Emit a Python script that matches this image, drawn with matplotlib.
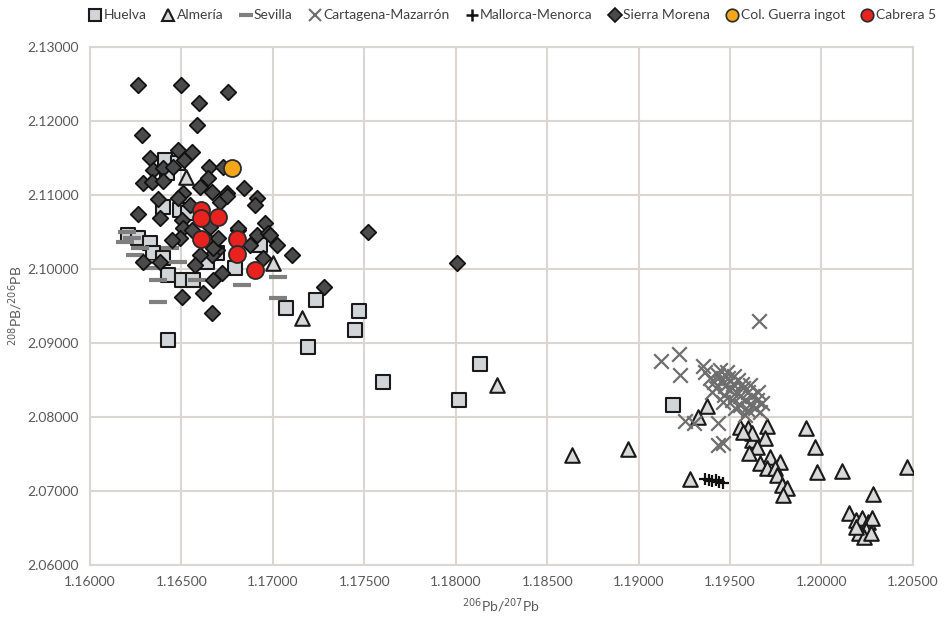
import matplotlib.pyplot as plt
from matplotlib.lines import Line2D

plt.rcParams['font.family'] = ['Lato', 'DejaVu Sans']

# Huelva
huelva_x = [1.16410, 1.16481, 1.16421, 1.16399, 1.16492, 1.16208, 1.16263, 1.16328, 1.16345, 1.16399,
            1.16695, 1.16793, 1.16930, 1.16427, 1.16503, 1.16563, 1.16536, 1.16640, 1.17072, 1.17236,
            1.17193, 1.16427, 1.17472, 1.17450, 1.17603, 1.18133, 1.18018, 1.19189]
huelva_y = [2.11473, 2.11432, 2.11297, 2.10838, 2.10797, 2.10459, 2.10419, 2.10351, 2.10216, 2.10149,
            2.10216, 2.10013, 2.10324, 2.09919, 2.09851, 2.09851, 2.10757, 2.10095, 2.09473, 2.09581,
            2.08946, 2.09041, 2.09432, 2.09176, 2.08473, 2.08716, 2.08230, 2.08162]

# Almería
almeria_x = [1.16525, 1.17001, 1.17160, 1.18226, 1.18637, 1.18943,
             1.19375, 1.19326, 1.19282, 1.19917, 1.19966, 1.19977, 1.20114, 1.20470, 1.20283,
             1.20152, 1.20190, 1.20223, 1.20256, 1.20278, 1.20245, 1.20207, 1.20234, 1.20273, 1.20190,
             1.19556, 1.19600, 1.19703, 1.19693, 1.19621, 1.19649, 1.19605, 1.19720, 1.19775,
             1.19665, 1.19703, 1.19747, 1.19758, 1.19786, 1.19813, 1.19791, 1.19621, 1.19572]
almeria_y = [2.11243, 2.10080, 2.09338, 2.08432, 2.07480, 2.07568,
             2.08149, 2.08000, 2.07162, 2.07851, 2.07595, 2.07257, 2.07270, 2.07324, 2.06959,
             2.06703, 2.06608, 2.06635, 2.06581, 2.06635, 2.06473, 2.06432, 2.06378, 2.06432, 2.06514,
             2.07865, 2.07851, 2.07878, 2.07716, 2.07689, 2.07595, 2.07514, 2.07459, 2.07392,
             2.07378, 2.07311, 2.07311, 2.07216, 2.07081, 2.07041, 2.06946, 2.07784, 2.07797]

# Sevilla
sevilla_x = [1.16202, 1.16191, 1.16274, 1.16438, 1.16481, 1.16372, 1.16585, 1.16372, 1.16831,
             1.17028, 1.17028, 1.16328, 1.16246, 1.16301, 1.16230]
sevilla_y = [2.10500, 2.10365, 2.10284, 2.10284, 2.10095, 2.09851, 2.09851, 2.09554, 2.09784,
             2.09892, 2.09608, 2.10013, 2.10189, 2.10095, 2.10419]

# Cartagena-Mazarrón
cartagena_x = [1.19364, 1.19391, 1.19413, 1.19435, 1.19457, 1.19473, 1.19490, 1.19501, 1.19517, 1.19534,
               1.19545, 1.19556, 1.19572, 1.19583, 1.19599, 1.19610, 1.19621, 1.19638, 1.19648, 1.19665,
               1.19424, 1.19468, 1.19512, 1.19556, 1.19599, 1.19402, 1.19446, 1.19484, 1.19523, 1.19566,
               1.19610, 1.19654, 1.19676, 1.19528, 1.19583, 1.19463,
               1.19660, 1.19124, 1.19222, 1.19228, 1.19354, 1.19255, 1.19304, 1.19435, 1.19463, 1.19435]
cartagena_y = [2.08608, 2.08527, 2.08473, 2.08568, 2.08500, 2.08419, 2.08527, 2.08365, 2.08446, 2.08338,
               2.08500, 2.08284, 2.08392, 2.08230, 2.08338, 2.08176, 2.08284, 2.08122, 2.08230, 2.08068,
               2.08392, 2.08297, 2.08230, 2.08162, 2.08095, 2.08338, 2.08635, 2.08608, 2.08554, 2.08446,
               2.08432, 2.08338, 2.08189, 2.08122, 2.08027, 2.08203,
               2.09297, 2.08757, 2.08851, 2.08568, 2.08689, 2.07946, 2.07919, 2.07919, 2.07649, 2.07622]

# Mallorca-Menorca
mallorca_x = [1.19364, 1.19386, 1.19402, 1.19424, 1.19441, 1.19463]
mallorca_y = [2.07162, 2.07149, 2.07135, 2.07149, 2.07122, 2.07108]

# Sierra Morena
sierra_x = [1.16263, 1.16498, 1.16755, 1.16596, 1.16585, 1.16284, 1.16481, 1.16558, 1.16328, 1.16514,
            1.16345, 1.16399, 1.16454, 1.16651, 1.16645, 1.16290, 1.16339, 1.16399, 1.16728, 1.16602,
            1.16667, 1.16749, 1.16842, 1.16913, 1.16372, 1.16509, 1.16711, 1.16481, 1.16749, 1.16903,
            1.16263, 1.16383, 1.16503, 1.16509, 1.16492, 1.16449, 1.16558, 1.16656, 1.16645, 1.16695,
            1.16667, 1.16602, 1.16722, 1.16673, 1.16503, 1.16618, 1.16667, 1.16383, 1.16290, 1.16810,
            1.16957, 1.16913, 1.16974, 1.17023, 1.17105, 1.16946, 1.16673, 1.16700, 1.16810, 1.16985,
            1.16547, 1.16574, 1.16875, 1.17280, 1.17521, 1.18008]
sierra_y = [2.12486, 2.12486, 2.12392, 2.12243, 2.11946, 2.11811, 2.11608, 2.11581, 2.11500, 2.11473,
            2.11338, 2.11365, 2.11378, 2.11378, 2.11230, 2.11162, 2.11176, 2.11189, 2.11378, 2.11108,
            2.11040, 2.11027, 2.11095, 2.10959, 2.10946, 2.11027, 2.10905, 2.10959, 2.10986, 2.10865,
            2.10743, 2.10689, 2.10662, 2.10554, 2.10419, 2.10392, 2.10527, 2.10568, 2.10392, 2.10257,
            2.10189, 2.10189, 2.09946, 2.09851, 2.09622, 2.09676, 2.09405, 2.10095, 2.10095, 2.10527,
            2.10622, 2.10459, 2.10486, 2.10324, 2.10189, 2.10149, 2.10284, 2.10419, 2.10554, 2.10459,
            2.10865, 2.10054, 2.10324, 2.09757, 2.10500, 2.10081]

# Col. Guerra ingot
guerra_x = [1.16777]
guerra_y = [2.11365]

# Cabrera 5
cabrera_x = [1.16607, 1.16607, 1.16700, 1.16607, 1.16804, 1.16804, 1.16903]
cabrera_y = [2.10797, 2.10689, 2.10703, 2.10405, 2.10405, 2.10203, 2.09986]

x_ticks = [1.160, 1.165, 1.170, 1.175, 1.180, 1.185, 1.190, 1.195, 1.200, 1.205]
y_ticks = [2.060, 2.070, 2.080, 2.090, 2.100, 2.110, 2.120, 2.130]

fig = plt.figure(figsize=(9.48, 6.18), dpi=100)
ax = fig.add_axes([0.095, 0.086, 0.868, 0.838])

ax.scatter(huelva_x, huelva_y, marker='s', s=110, c='#d2d5d8', edgecolors='#1a1a1a', linewidths=1.5, zorder=3)
ax.scatter(almeria_x, almeria_y, marker='^', s=110, c='#d9d9d9', edgecolors='#1a1a1a', linewidths=1.5, zorder=3)
ax.scatter(sevilla_x, sevilla_y, marker='_', s=150, c='#7f7f7f', linewidths=3, zorder=3)
ax.scatter(cartagena_x, cartagena_y, marker='x', s=110, c='#6e6e6e', linewidths=1.6, zorder=3)
ax.scatter(mallorca_x, mallorca_y, marker='+', s=70, c='#111111', linewidths=1.6, zorder=3)
ax.scatter(sierra_x, sierra_y, marker='D', s=62, c='#4a4a4a', edgecolors='#111111', linewidths=1.3, zorder=3)
ax.scatter(guerra_x, guerra_y, marker='o', s=150, c='#f2a71b', edgecolors='#2a2a2a', linewidths=1.3, zorder=3)
ax.scatter(cabrera_x, cabrera_y, marker='o', s=150, c='#e8221e', edgecolors='#2a2a2a', linewidths=1.3, zorder=3)

ax.set_xlim(1.160, 1.205)
ax.set_ylim(2.060, 2.130)
ax.set_xticks(x_ticks)
ax.set_yticks(y_ticks)
ax.set_xticklabels(['%.5f' % v for v in x_ticks])
ax.set_yticklabels(['%.5f' % v for v in y_ticks])
ax.tick_params(length=0, labelsize=10, colors='#595959', pad=8)
ax.grid(True, color='#dcd6d2', linewidth=1.5, zorder=0)
for sp in ax.spines.values():
    sp.set_color('#dcd6d2')
    sp.set_linewidth(1.5)

ax.set_xlabel(r'$^{206}$Pb/$^{207}$Pb', fontsize=10, color='#595959', labelpad=6)
ax.set_ylabel(r'$^{208}$PB/$^{206}$PB', fontsize=10, color='#595959', labelpad=2)

#legend
handles = [
    Line2D([], [], marker='s', ls='', ms=8, mfc='#d2d5d8', mec='#1a1a1a', mew=1.5),
    Line2D([], [], marker='^', ls='', ms=8, mfc='#d9d9d9', mec='#1a1a1a', mew=1.5),
    Line2D([], [], marker='_', ls='', ms=10, color='#7f7f7f', mew=3),
    Line2D([], [], marker='x', ls='', ms=8, color='#6e6e6e', mew=1.5),
    Line2D([], [], marker='+', ls='', ms=9, color='#111111', mew=1.8),
    Line2D([], [], marker='D', ls='', ms=7, mfc='#4a4a4a', mec='#111111', mew=1.2),
    Line2D([], [], marker='o', ls='', ms=9, mfc='#f2a71b', mec='#2a2a2a', mew=1.2),
    Line2D([], [], marker='o', ls='', ms=9, mfc='#e8221e', mec='#2a2a2a', mew=1.2),
]
labels = ['Huelva', 'Almería', 'Sevilla', 'Cartagena-Mazarrón', 'Mallorca-Menorca',
          'Sierra Morena', 'Col. Guerra ingot', 'Cabrera 5']
leg = fig.legend(handles, labels, loc='upper center', bbox_to_anchor=(0.54, 1.005), ncol=8,
                 frameon=False, fontsize=10, handletextpad=0.1, columnspacing=1.1, handlelength=1.0)
for t in leg.get_texts():
    t.set_color('#404040')

plt.savefig('out.png', dpi=100)
